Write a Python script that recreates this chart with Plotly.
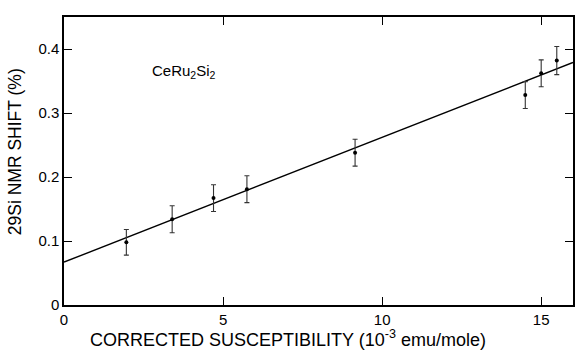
import plotly.graph_objects as go

# Data
susceptibility = [1.96, 3.40, 4.70, 5.75, 9.15, 14.50, 15.00, 15.49]
nmr_shift = [0.098, 0.134, 0.167, 0.181, 0.238, 0.328, 0.362, 0.382]
shift_err = [0.020, 0.021, 0.021, 0.021, 0.021, 0.021, 0.021, 0.022]

fit_x = [0.0, 16.0]
fit_y = [0.067, 0.379]

x_tickvals = [0, 5, 10, 15]
x_ticktext = ["0", "5", "10", "15"]
y_tickvals = [0, 0.1, 0.2, 0.3, 0.4]
y_ticktext = ["0", "0.1", "0.2", "0.3", "0.4"]

FONT = "Liberation Sans, Arial, sans-serif"

fig = go.Figure()
fig.add_trace(go.Scatter(
    x=fit_x, y=fit_y, mode="lines",
    line=dict(color="black", width=1.4),
    showlegend=False, hoverinfo="skip",
))
fig.add_trace(go.Scatter(
    x=susceptibility, y=nmr_shift, mode="markers",
    marker=dict(color="black", size=4),
    error_y=dict(type="data", array=shift_err, visible=True,
                 color="#333333", thickness=1.1, width=2.5),
    showlegend=False,
))

fig.add_annotation(
    x=2.7, y=0.365, xref="x", yref="y", xanchor="left", yanchor="middle",
    text="CeRu<sub>2</sub>Si<sub>2</sub>", showarrow=False,
    font=dict(family=FONT, size=15, color="black"),
)

# Axis titles (placed as in the reference, slightly off-centre)
fig.add_annotation(
    x=0.44, y=-0.118, xref="paper", yref="paper",
    xanchor="center", yanchor="middle", showarrow=False,
    text="CORRECTED SUSCEPTIBILITY (10<sup>-3</sup> emu/mole)",
    font=dict(family=FONT, size=18, color="black"),
)
fig.add_annotation(
    x=-0.096, y=0.531, xref="paper", yref="paper",
    xanchor="center", yanchor="middle", showarrow=False, textangle=-90,
    text="29Si NMR SHIFT (%)",
    font=dict(family=FONT, size=17.5, color="black"),
)

axis_common = dict(
    showgrid=False, zeroline=False, showline=True, linecolor="black",
    linewidth=1.5, mirror="ticks", ticks="inside", ticklen=8,
    tickwidth=1.2, tickcolor="black",
    tickfont=dict(family=FONT, size=15, color="black"),
)

fig.update_xaxes(
    range=[0, 16], tickmode="array", tickvals=x_tickvals, ticktext=x_ticktext,
    **axis_common,
)
fig.update_yaxes(
    range=[0, 0.45], tickmode="array", tickvals=y_tickvals, ticktext=y_ticktext,
    **axis_common,
)

fig.update_layout(
    width=576, height=351,
    margin=dict(l=64, r=1, t=17, b=46),
    paper_bgcolor="white", plot_bgcolor="white",
)

fig.write_html("out.html")
